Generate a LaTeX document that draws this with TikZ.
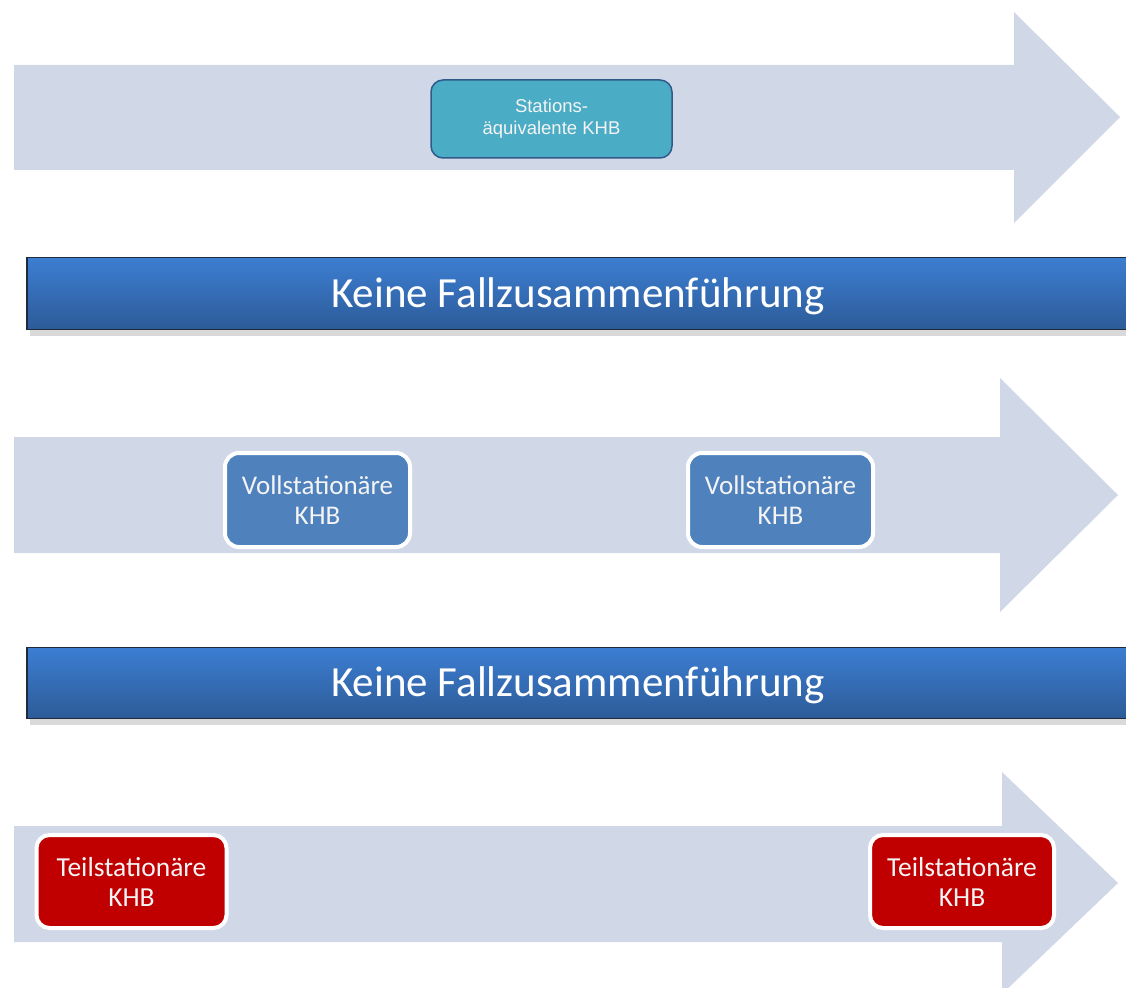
\documentclass[tikz,border=0pt]{standalone}
\usepackage{fontspec}
\setmainfont{Carlito}
\newfontfamily\arialf{Liberation Sans}
\definecolor{arrowfill}{HTML}{D0D8E8}
\definecolor{tealfill}{HTML}{4BACC6}
\definecolor{tealline}{HTML}{2F5A8A}
\definecolor{vollfill}{HTML}{4F81BD}
\definecolor{teilfill}{HTML}{C00000}
\definecolor{bantop}{HTML}{3C7ED2}
\definecolor{banbot}{HTML}{2D5B98}
\definecolor{banline}{HTML}{1F2A3A}
\definecolor{txtw}{HTML}{F4F4F4}
\begin{document}
\begin{tikzpicture}[x=1pt,y=-1pt,
  bigarrow/.style={fill=arrowfill},
  tealbox/.style={draw=tealline,line width=1.5pt,fill=tealfill,rounded corners=12pt,
    minimum width=241pt,minimum height=78pt,inner sep=0pt,align=center,
    text=txtw,font=\arialf\fontsize{18.5}{22}\selectfont},
  vollbox/.style={draw=white,line width=4pt,fill=vollfill,rounded corners=14pt,
    minimum width=185pt,minimum height=94pt,inner sep=0pt,align=center,
    text=txtw,font=\fontsize{27}{30}\selectfont},
  teilbox/.style={draw=white,line width=4pt,fill=teilfill,rounded corners=13pt,
    minimum width=190pt,minimum height=93pt,inner sep=0pt,align=center,
    text=txtw,font=\fontsize{27.5}{30}\selectfont},
  banner/.style={draw=banline,line width=1.5pt,top color=bantop,bottom color=banbot,
    minimum width=1102pt,minimum height=72pt,inner sep=0pt,
    text=white,font=\fontsize{43}{50}\selectfont},
  bshadow/.style={fill=black,opacity=0.15}
]
\clip (0,0) rectangle (1126,987);
\fill[white] (0,0) rectangle (1126,987);
% arrows
\fill[bigarrow] (14,65) -- (1014,65) -- (1014,12) -- (1120,117) -- (1014,223) -- (1014,170) -- (14,170) -- cycle;
\fill[bigarrow] (14,437) -- (1000,437) -- (1000,378) -- (1118,495) -- (1000,612) -- (1000,553) -- (14,553) -- cycle;
\fill[bigarrow] (14,826) -- (1002,826) -- (1002,772) -- (1118,883) -- (1002,994) -- (1002,942) -- (14,942) -- cycle;
% top box
\node[tealbox] (sta) at (551.5,119) {Stations-\\äquivalente KHB};
% banner 1
\fill[bshadow] (30,263) rectangle (1130,336);
\node[banner] (ban1) at (578,293.5) {\raisebox{-13.5pt}[0pt][0pt]{Keine Fallzusammenführung}};
% voll boxes
\node[vollbox] (voll1) at (317.5,500) {Vollstationäre\\KHB};
\node[vollbox] (voll2) at (780.5,500) {Vollstationäre\\KHB};
% banner 2
\fill[bshadow] (30,654) rectangle (1130,725);
\node[banner,minimum height=71pt] (ban2) at (578,683) {\raisebox{-13pt}[0pt][0pt]{Keine Fallzusammenführung}};
% teil boxes
\node[teilbox] (teil1) at (131.5,881.5) {Teilstationäre\\KHB};
\node[teilbox,minimum width=184pt] (teil2) at (962,881.5) {Teilstationäre\\KHB};
\end{tikzpicture}
\end{document}
